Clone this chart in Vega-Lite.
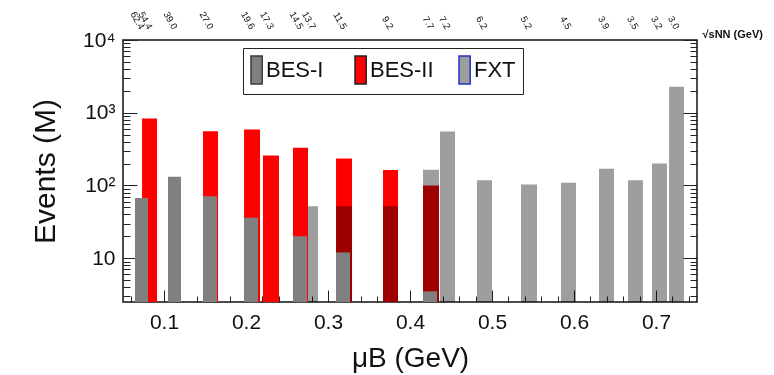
{
  "$schema": "https://vega.github.io/schema/vega-lite/v6.json",
  "width": 574,
  "height": 262,
  "autosize": {"type": "none"},
  "padding": {"left": 123, "top": 40, "right": 77, "bottom": 73},
  "background": "white",
  "config": {
    "font": "Liberation Sans",
    "view": {"stroke": "#111", "strokeWidth": 1.5},
    "axis": {"grid": false, "domain": false, "tickColor": "#222", "tickWidth": 1, "labelColor": "#111", "titleColor": "#111", "titleFontWeight": "normal"}
  },
  "data": {
    "values": [
      {"series": "BES-II", "sqrts": "54.4", "events": 830, "mu_lo": 0.0732, "mu_hi": 0.0915},
      {"series": "BES-II", "sqrts": "27.0", "events": 555, "mu_lo": 0.1476, "mu_hi": 0.1659},
      {"series": "BES-II", "sqrts": "19.6", "events": 590, "mu_lo": 0.1976, "mu_hi": 0.2171},
      {"series": "BES-II", "sqrts": "17.3", "events": 259, "mu_lo": 0.2207, "mu_hi": 0.2402},
      {"series": "BES-II", "sqrts": "14.5", "events": 330, "mu_lo": 0.2573, "mu_hi": 0.2756},
      {"series": "BES-II", "sqrts": "11.5", "events": 235, "mu_lo": 0.3098, "mu_hi": 0.3293},
      {"series": "BES-II", "sqrts": "9.2", "events": 163, "mu_lo": 0.3671, "mu_hi": 0.3854},
      {"series": "BES-II", "sqrts": "7.7", "events": 100, "mu_lo": 0.4159, "mu_hi": 0.4354},
      {"series": "FXT", "sqrts": "13.7", "events": 52, "mu_lo": 0.2756, "mu_hi": 0.2878},
      {"series": "FXT", "sqrts": "11.5", "events": 52, "mu_lo": 0.3098, "mu_hi": 0.3293},
      {"series": "FXT", "sqrts": "9.2", "events": 52, "mu_lo": 0.3671, "mu_hi": 0.3854},
      {"series": "FXT", "sqrts": "7.7", "events": 165, "mu_lo": 0.4159, "mu_hi": 0.4354},
      {"series": "FXT", "sqrts": "7.2", "events": 553, "mu_lo": 0.4366, "mu_hi": 0.4549},
      {"series": "FXT", "sqrts": "6.2", "events": 118, "mu_lo": 0.4817, "mu_hi": 0.5},
      {"series": "FXT", "sqrts": "5.2", "events": 103, "mu_lo": 0.5354, "mu_hi": 0.5549},
      {"series": "FXT", "sqrts": "4.5", "events": 109, "mu_lo": 0.5841, "mu_hi": 0.6024},
      {"series": "FXT", "sqrts": "3.9", "events": 170, "mu_lo": 0.6305, "mu_hi": 0.6488},
      {"series": "FXT", "sqrts": "3.5", "events": 118, "mu_lo": 0.6659, "mu_hi": 0.6841},
      {"series": "FXT", "sqrts": "3.2", "events": 201, "mu_lo": 0.6951, "mu_hi": 0.7134},
      {"series": "FXT", "sqrts": "3.0", "events": 2280, "mu_lo": 0.7159, "mu_hi": 0.7341},
      {"series": "BES-I", "sqrts": "62.4", "events": 67, "mu_lo": 0.0646, "mu_hi": 0.0805},
      {"series": "BES-I", "sqrts": "39.0", "events": 132, "mu_lo": 0.1049, "mu_hi": 0.1207},
      {"series": "BES-I", "sqrts": "27.0", "events": 71, "mu_lo": 0.1476, "mu_hi": 0.1646},
      {"series": "BES-I", "sqrts": "19.6", "events": 36, "mu_lo": 0.1976, "mu_hi": 0.2146},
      {"series": "BES-I", "sqrts": "14.5", "events": 20, "mu_lo": 0.2573, "mu_hi": 0.2744},
      {"series": "BES-I", "sqrts": "11.5", "events": 12, "mu_lo": 0.3098, "mu_hi": 0.3268},
      {"series": "BES-I", "sqrts": "7.7", "events": 3.5, "mu_lo": 0.4159, "mu_hi": 0.433}
    ]
  },
  "layer": [
    {
      "transform": [{"filter": "datum.series === 'BES-II'"}],
      "mark": {"type": "bar", "strokeWidth": 0},
      "encoding": {
        "x": {
          "field": "mu_lo", "type": "quantitative",
          "scale": {"domain": [0.05, 0.75], "nice": false, "zero": false},
          "axis": {
            "orient": "bottom",
            "values": [0.1, 0.2, 0.3, 0.4, 0.5, 0.6, 0.7],
            "format": ".1f",
            "offset": -12,
            "tickSize": 12,
            "labelFontSize": 21,
            "labelPadding": 9,
            "labelFlush": false,
            "labelOverlap": false,
            "title": "μB (GeV)",
            "titleFontSize": 28,
            "titlePadding": 12
          }
        },
        "x2": {"field": "mu_hi"},
        "y": {
          "field": "events", "type": "quantitative",
          "scale": {"type": "log", "domain": [2.5, 10000], "nice": false},
          "axis": {
            "orient": "left",
            "values": [10, 100, 1000, 10000],
            "labelExpr": "datum.value == 10000 ? '10⁴' : datum.value == 1000 ? '10³' : datum.value == 100 ? '10²' : '10'",
            "offset": -14,
            "tickSize": 14,
            "labelFontSize": 21,
            "labelPadding": 8,
            "labelFlush": false,
            "labelOverlap": false,
            "labelBound": false,
            "title": "Events (M)",
            "titleFontSize": 30,
            "titlePadding": 22
          }
        },
        "y2": {"datum": 2.5},
        "color": {
          "field": "series", "type": "nominal",
          "scale": {"domain": ["BES-I", "BES-II", "FXT"], "range": ["#808080", "#ff0000", "#9e9e9e"]},
          "legend": {
            "orient": "none", "legendX": 120, "legendY": 8, "direction": "horizontal",
            "columns": 3, "gridAlign": "all",
            "title": null, "strokeColor": "#222", "fillColor": "white", "padding": 7,
            "labelFontSize": 22, "labelColor": "#111",
            "symbolType": "M-1,-1L-0.2,-1L-0.2,1L-1,1Z", "symbolSize": 784,
            "symbolStrokeWidth": 1.5,
            "columnPadding": 22, "labelOffset": -14
          }
        },
        "stroke": {
          "field": "series", "type": "nominal",
          "scale": {"domain": ["BES-I", "BES-II", "FXT"], "range": ["#3a3a3a", "#222222", "#2233cc"]}
        }
      }
    },
    {
      "transform": [{"filter": "datum.series === 'FXT' && datum.mu_lo < 0.436"}],
      "mark": {"type": "bar", "strokeWidth": 0, "blend": "multiply"},
      "encoding": {
        "x": {
          "field": "mu_lo", "type": "quantitative",
          "scale": {"domain": [0.05, 0.75], "nice": false, "zero": false},
          "axis": {
            "orient": "top",
            "values": [0.0726, 0.0824, 0.1128, 0.1568, 0.2073, 0.2305, 0.2665, 0.2817, 0.3195, 0.3762, 0.4256, 0.4457, 0.4909, 0.5451, 0.5933, 0.6396, 0.675, 0.7043, 0.725],
            "labelExpr": "['62.4', '54.4', '39.0', '27.0', '19.6', '17.3', '14.5', '13.7', '11.5', '9.2', '7.7', '7.2', '6.2', '5.2', '4.5', '3.9', '3.5', '3.2', '3.0'][indexof([0.0726, 0.0824, 0.1128, 0.1568, 0.2073, 0.2305, 0.2665, 0.2817, 0.3195, 0.3762, 0.4256, 0.4457, 0.4909, 0.5451, 0.5933, 0.6396, 0.675, 0.7043, 0.725], datum.value)]",
            "ticks": false,
            "labelAngle": 60,
            "labelAlign": "right",
            "labelBaseline": "middle",
            "labelFontSize": 9.5,
            "labelPadding": 12,
            "labelOverlap": false,
            "labelFlush": false,
            "labelBound": false,
            "title": "√sNN (GeV)",
            "titleX": 579,
            "titleY": -3,
            "titleAlign": "left",
            "titleBaseline": "alphabetic",
            "titleAngle": 0,
            "titleFontSize": 11,
            "titleFontWeight": "bold"
          }
        },
        "x2": {"field": "mu_hi"},
        "y": {
          "field": "events", "type": "quantitative",
          "scale": {"type": "log", "domain": [2.5, 10000], "nice": false},
          "axis": {
            "orient": "right",
            "values": [10, 100, 1000, 10000],
            "labels": false,
            "offset": -14,
            "tickSize": 14,
            "title": null
          }
        },
        "y2": {"datum": 2.5},
        "color": {"field": "series", "type": "nominal", "scale": {"domain": ["BES-I", "BES-II", "FXT"], "range": ["#808080", "#ff0000", "#9e9e9e"]}}
      }
    },
    {
      "transform": [{"filter": "datum.series === 'FXT' && datum.mu_lo >= 0.436"}],
      "mark": {"type": "bar", "strokeWidth": 0, "blend": "multiply"},
      "encoding": {
        "x": {
          "field": "mu_lo", "type": "quantitative",
          "scale": {"domain": [0.05, 0.75], "nice": false, "zero": false},
          "axis": {
            "orient": "bottom",
            "values": [0.06, 0.08, 0.12, 0.14, 0.16, 0.18, 0.22, 0.24, 0.26, 0.28, 0.32, 0.34, 0.36, 0.38, 0.42, 0.44, 0.46, 0.48, 0.52, 0.54, 0.56, 0.58, 0.62, 0.64, 0.66, 0.68, 0.72, 0.74],
            "labels": false,
            "offset": -6,
            "tickSize": 6,
            "title": null
          }
        },
        "x2": {"field": "mu_hi"},
        "y": {
          "field": "events", "type": "quantitative",
          "scale": {"type": "log", "domain": [2.5, 10000], "nice": false},
          "axis": {
            "orient": "right",
            "values": [3, 4, 5, 6, 7, 8, 9, 20, 30, 40, 50, 60, 70, 80, 90, 200, 300, 400, 500, 600, 700, 800, 900, 2000, 3000, 4000, 5000, 6000, 7000, 8000, 9000],
            "labels": false,
            "offset": -7,
            "tickSize": 7,
            "title": null
          }
        },
        "y2": {"datum": 2.5},
        "color": {"field": "series", "type": "nominal", "scale": {"domain": ["BES-I", "BES-II", "FXT"], "range": ["#808080", "#ff0000", "#9e9e9e"]}}
      }
    },
    {
      "transform": [{"filter": "datum.series === 'BES-I'"}],
      "mark": {"type": "bar", "strokeWidth": 0},
      "encoding": {
        "x": {"field": "mu_lo", "type": "quantitative", "scale": {"domain": [0.05, 0.75], "nice": false, "zero": false}, "axis": null},
        "x2": {"field": "mu_hi"},
        "y": {
          "field": "events", "type": "quantitative",
          "scale": {"type": "log", "domain": [2.5, 10000], "nice": false},
          "axis": {
            "orient": "left",
            "values": [3, 4, 5, 6, 7, 8, 9, 20, 30, 40, 50, 60, 70, 80, 90, 200, 300, 400, 500, 600, 700, 800, 900, 2000, 3000, 4000, 5000, 6000, 7000, 8000, 9000],
            "labels": false,
            "offset": -7,
            "tickSize": 7,
            "title": null
          }
        },
        "y2": {"datum": 2.5},
        "color": {"field": "series", "type": "nominal", "scale": {"domain": ["BES-I", "BES-II", "FXT"], "range": ["#808080", "#ff0000", "#9e9e9e"]}}
      }
    }
  ],
  "resolve": {"axis": {"x": "independent", "y": "independent"}}
}
